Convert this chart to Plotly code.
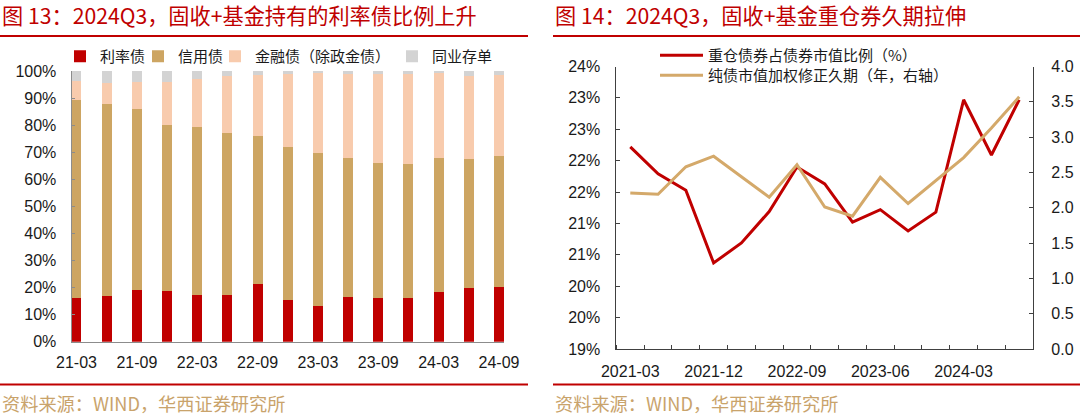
import plotly.graph_objects as go

# ---------------- data ----------------
bar_quarters = ["21-03", "21-06", "21-09", "21-12", "22-03", "22-06", "22-09", "22-12",
                "23-03", "23-06", "23-09", "23-12", "24-03", "24-06", "24-09"]
rate_bond = [16.3, 16.7, 19.1, 18.6, 17.1, 17.1, 21.3, 15.5, 13.3, 16.5, 16.1, 16.0, 18.2, 19.7, 20.2]
credit_bond = [73.1, 71.2, 66.9, 61.3, 62.3, 60.1, 54.6, 56.5, 56.5, 51.5, 49.9, 49.6, 49.8, 47.9, 48.5]
financial_bond = [6.8, 7.7, 9.8, 15.9, 17.8, 20.8, 22.6, 27.0, 29.5, 31.0, 32.8, 33.2, 31.3, 30.7, 29.7]
ncd = [3.8, 4.4, 4.2, 4.2, 2.8, 2.0, 1.5, 1.0, 0.7, 1.0, 1.2, 1.2, 0.7, 1.7, 1.6]
bar_series_names = ["利率债", "信用债", "金融债（除政金债）", "同业存单"]

line_quarters = ["2021-03", "2021-06", "2021-09", "2021-12", "2022-03", "2022-06", "2022-09",
                 "2022-12", "2023-03", "2023-06", "2023-09", "2023-12", "2024-03", "2024-06", "2024-09"]
heavy_share = [22.22, 21.79, 21.53, 20.37, 20.69, 21.19, 21.90, 21.63, 21.02, 21.22, 20.88, 21.18, 22.97, 22.09, 22.97]
duration = [2.21, 2.19, 2.58, 2.73, 2.44, 2.15, 2.61, 2.01, 1.88, 2.43, 2.06, 2.39, 2.71, 3.13, 3.57]
line_series_names = ["重仓债券占债券市值比例（%）", "纯债市值加权修正久期（年，右轴）"]

left_ytick_vals = [0, 10, 20, 30, 40, 50, 60, 70, 80, 90, 100]
left_ytick_text = [f"{v}%" for v in left_ytick_vals]
right_ytick_vals = [19.0, 19.5, 20.0, 20.5, 21.0, 21.5, 22.0, 22.5, 23.0, 23.5]
right_ytick_text = ["19%", "20%", "20%", "21%", "21%", "22%", "22%", "23%", "23%", "24%"]
dur_tick_vals = [0, 0.5, 1.0, 1.5, 2.0, 2.5, 3.0, 3.5, 4.0]
dur_tick_text = [f"{v:.1f}" for v in dur_tick_vals]

titles = ["图 13：2024Q3，固收+基金持有的利率债比例上升", "图 14：2024Q3，固收+基金重仓券久期拉伸"]
source_text = "资料来源：WIND，华西证券研究所"

# ---------------- style ----------------
W, H = 1080, 417
RED = "#C00000"
BAR_COLORS = ["#C00000", "#CDA562", "#F8CBAD", "#D3D3D3"]
LINE_COLORS = ["#C00000", "#D4A96A"]
SRC_COLOR = "#C9A36B"
CJK = "Noto Sans CJK SC"
NUM = "Liberation Sans, Arial, sans-serif"
# legend placement (pixels): left x of each legend box / centre y
BAR_LEG_X = [60, 138, 215, 392]
BAR_LEG_Y = 56.5
LINE_LEG_X = 655
LINE_LEG_Y = [55.5, 75.5]


def px_x(x):
    return x / W


def px_y(y):
    return (H - y) / H


fig = go.Figure()

bar_values = [rate_bond, credit_bond, financial_bond, ncd]
bar_legends = ["legend", "legend2", "legend3", "legend4"]
for name, vals, col, lg in zip(bar_series_names, bar_values, BAR_COLORS, bar_legends):
    fig.add_trace(go.Bar(
        x=bar_quarters, y=vals, name=name, marker=dict(color=col, line=dict(width=0)),
        width=0.33, xaxis="x", yaxis="y", legend=lg,
    ))

xi = list(range(len(line_quarters)))
fig.add_trace(go.Scatter(
    x=xi, y=heavy_share, name=line_series_names[0], mode="lines",
    line=dict(color=LINE_COLORS[0], width=3), xaxis="x2", yaxis="y2", legend="legend5",
))
fig.add_trace(go.Scatter(
    x=xi, y=duration, name=line_series_names[1], mode="lines",
    line=dict(color=LINE_COLORS[1], width=3), xaxis="x2", yaxis="y3", legend="legend6",
))

tick_font = dict(family=NUM, size=16, color="#1a1a1a")

legend_common = dict(xanchor="left", yanchor="middle", bgcolor="rgba(0,0,0,0)",
                     borderwidth=0, orientation="v")
legends = {}
for lg, lx in zip(bar_legends, BAR_LEG_X):
    legends[lg] = dict(legend_common, x=px_x(lx), y=px_y(BAR_LEG_Y), itemwidth=30,
                       font=dict(family=CJK, size=15, color="#1a1a1a"))
for lg, ly in zip(["legend5", "legend6"], LINE_LEG_Y):
    legends[lg] = dict(legend_common, x=px_x(LINE_LEG_X), y=px_y(ly), itemwidth=43,
                       font=dict(family=CJK, size=15, color="#1a1a1a"))

fig.update_layout(
    width=W, height=H, margin=dict(l=0, r=0, t=0, b=0, autoexpand=False),
    paper_bgcolor="white", plot_bgcolor="white",
    barmode="stack", showlegend=True,
    xaxis=dict(
        domain=[px_x(71.5), px_x(504)], anchor="y", type="category",
        range=[-0.166, 14.166], tickmode="array",
        tickvals=bar_quarters[::2], ticktext=bar_quarters[::2],
        showline=True, linecolor="#8C8C8C", linewidth=1, ticks="",
        showgrid=False, zeroline=False, tickfont=tick_font, ticklabelstandoff=6,
    ),
    yaxis=dict(
        domain=[px_y(341.7), px_y(71)], anchor="x", range=[0, 100],
        tickmode="array", tickvals=left_ytick_vals, ticktext=left_ytick_text,
        showline=True, linecolor="#8C8C8C", linewidth=1,
        ticks="inside", ticklen=3, tickcolor="#8C8C8C",
        showgrid=False, zeroline=False, tickfont=tick_font, ticklabelstandoff=11,
    ),
    xaxis2=dict(
        domain=[px_x(616.4), px_x(1033.1)], anchor="y2", range=[-0.5, 14.5],
        tickmode="array", tickvals=xi[::3], ticktext=line_quarters[::3], ticks="",
        minor=dict(tickmode="linear", tick0=-0.5, dtick=1, ticks="inside", ticklen=4,
                   tickcolor="#404040", showgrid=False),
        showline=True, linecolor="#404040", linewidth=1,
        showgrid=False, zeroline=False, tickfont=tick_font, ticklabelstandoff=8,
    ),
    yaxis2=dict(
        domain=[px_y(349), px_y(66.5)], anchor="x2", range=[19, 23.5],
        tickmode="array", tickvals=right_ytick_vals, ticktext=right_ytick_text,
        showline=True, linecolor="#404040", linewidth=1,
        ticks="inside", ticklen=4, tickcolor="#404040",
        showgrid=False, zeroline=False, tickfont=tick_font, ticklabelstandoff=12,
    ),
    yaxis3=dict(
        overlaying="y2", anchor="x2", side="right", range=[0, 4],
        tickmode="array", tickvals=dur_tick_vals, ticktext=dur_tick_text,
        showline=True, linecolor="#404040", linewidth=1,
        ticks="inside", ticklen=4, tickcolor="#404040",
        showgrid=False, zeroline=False, tickfont=tick_font, ticklabelstandoff=14,
    ),
    **legends,
)

# titles and source notes
for x0, t in zip([0, 553], titles):
    fig.add_annotation(
        text=t, xref="paper", yref="paper", x=px_x(x0), y=px_y(14.5),
        xanchor="left", yanchor="middle", showarrow=False,
        font=dict(family=CJK, size=21.2, color=RED),
    )
for x0 in [0, 553]:
    fig.add_annotation(
        text=source_text, xref="paper", yref="paper", x=px_x(x0), y=px_y(402.5),
        xanchor="left", yanchor="middle", showarrow=False,
        font=dict(family=CJK, size=18.2, color=SRC_COLOR),
    )

# red separator rules
for (xa, xb) in [(0, 528), (553, 1080)]:
    for yy in [36, 384.5]:
        fig.add_shape(type="line", xref="paper", yref="paper",
                      x0=px_x(xa), x1=px_x(xb), y0=px_y(yy), y1=px_y(yy),
                      line=dict(color=RED, width=2))

fig.write_html("out.html", config={"displayModeBar": False},
               post_script="document.body.style.margin='0px';document.body.style.overflow='hidden';")
